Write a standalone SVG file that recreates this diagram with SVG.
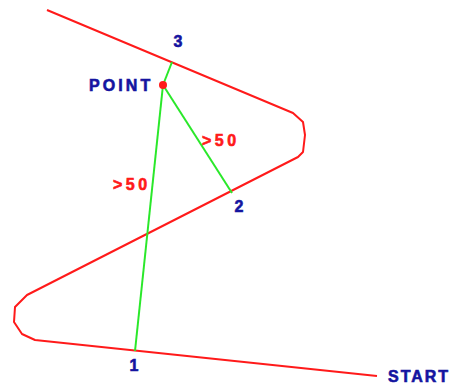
<svg xmlns="http://www.w3.org/2000/svg" width="454" height="384" viewBox="0 0 454 384">
<style>
.lbl{font-family:"Liberation Sans",Arial,sans-serif;font-weight:bold;font-size:16px;fill:#1414a0;stroke:#1414a0;stroke-width:0.6px}
.dist{font-family:"Liberation Sans",Arial,sans-serif;font-weight:bold;font-size:16px;fill:#ff1a1a;stroke:#ff1a1a;stroke-width:0.6px;letter-spacing:3.5px}
.road{fill:none;stroke:#ff1a1a;stroke-width:2;stroke-linejoin:round}
.ray{stroke:#2ae82a;stroke-width:2;fill:none}
</style>
<rect width="454" height="384" fill="#ffffff"/>
<g id="path">
<polyline class="road" points="47,10 293,113 303,122 305,135 303,152 298,157 27,295 15,307 14,322 22,334 35,340 377,376"/>
</g>
<g id="connectors">
<line class="ray" x1="163" y1="85" x2="172" y2="62"/>
<line class="ray" x1="163" y1="85" x2="232" y2="193"/>
<line class="ray" x1="163" y1="85" x2="135" y2="351"/>
</g>
<g id="point">
<circle cx="163" cy="85" r="4" fill="#ff1a1a"/>
<text class="lbl" x="89" y="91" style="letter-spacing:3.1px">POINT</text>
</g>
<g id="p3"><text class="lbl" x="178" y="47" text-anchor="middle">3</text></g>
<g id="p2"><text class="lbl" x="239" y="212" text-anchor="middle">2</text></g>
<g id="p1"><text class="lbl" x="134" y="371" text-anchor="middle">1</text></g>
<g id="start"><text class="lbl" x="388" y="382" style="letter-spacing:2px">START</text></g>
<g id="d2"><text class="dist" x="202" y="146">&gt;50</text></g>
<g id="d1"><text class="dist" x="113" y="190">&gt;50</text></g>
</svg>
